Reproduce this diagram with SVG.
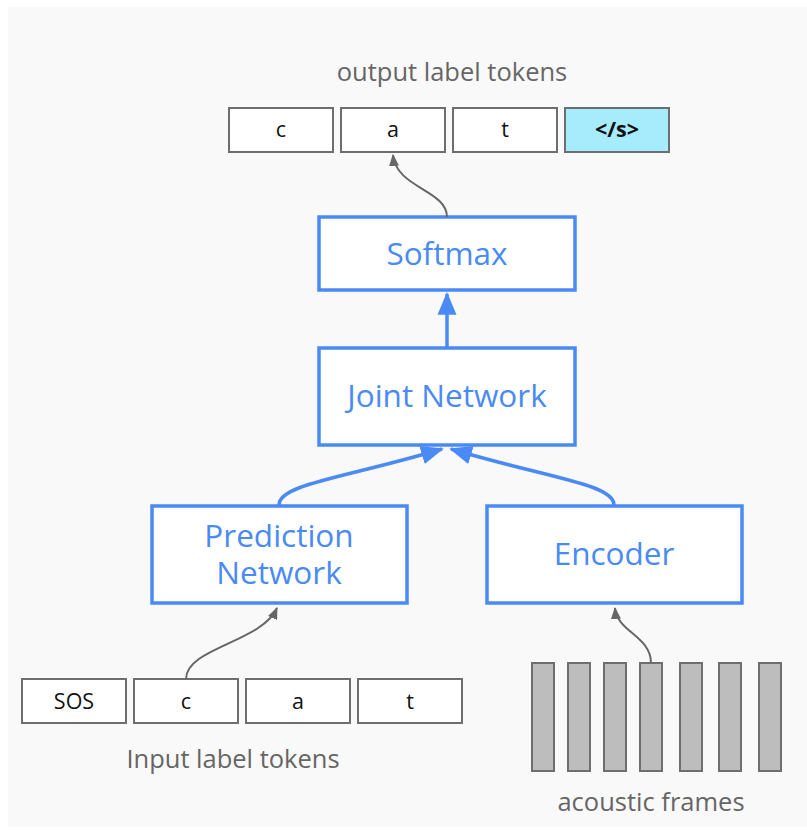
<svg xmlns="http://www.w3.org/2000/svg" width="807" height="830" viewBox="0 0 807 830">
  <defs>
    <marker id="blueHead" viewBox="0 0 12 10" refX="11" refY="5" markerWidth="6.5" markerHeight="5.5" markerUnits="strokeWidth" orient="auto">
      <path d="M0,0 L12,5 L0,10 z" fill="#4a8af4"/>
    </marker>
    <marker id="grayHead" viewBox="0 0 12 10" refX="11" refY="5" markerWidth="6" markerHeight="5" markerUnits="strokeWidth" orient="auto">
      <path d="M0,0 L12,5 L0,10 z" fill="#666666"/>
    </marker>
    <style>
      .panel { fill: #f9f9f9; }
      .block { fill: #ffffff; stroke: #4a8af4; stroke-width: 3.5; }
      .blockText { font-family: "Open Sans", Roboto, "Liberation Sans", sans-serif; font-size: 31.5px; fill: #4a8af4; text-anchor: middle; }
      .token { fill: #ffffff; stroke: #6e6e6e; stroke-width: 2; }
      .tokenEnd { fill: #a7ecfc; stroke: #6e6e6e; stroke-width: 2; }
      .tokenText { font-family: "Open Sans", Roboto, "Liberation Sans", sans-serif; font-size: 21.5px; fill: #111111; text-anchor: middle; }
      .caption { font-family: "Open Sans", Roboto, "Liberation Sans", sans-serif; font-size: 25.5px; fill: #666666; text-anchor: middle; }
      .frame { fill: #bdbdbd; stroke: #6e6e6e; stroke-width: 2; }
      .flowBlue { fill: none; stroke: #4a8af4; stroke-width: 3.5; }
      .flowGray { fill: none; stroke: #666666; stroke-width: 2; }
    </style>
  </defs>

  <rect class="panel" x="8" y="7" width="799" height="820"/>

  <!-- output tokens -->
  <g id="output-tokens">
    <text class="caption" x="452" y="81">output label tokens</text>
    <rect class="token" x="229" y="108" width="104" height="44"/>
    <text class="tokenText" x="281" y="137">c</text>
    <rect class="token" x="341" y="108" width="104" height="44"/>
    <text class="tokenText" x="393" y="137">a</text>
    <rect class="token" x="453" y="108" width="104" height="44"/>
    <text class="tokenText" x="505" y="137">t</text>
    <rect class="tokenEnd" x="565" y="108" width="104" height="44"/>
    <text class="tokenText" x="617" y="137" font-weight="bold" font-size="18">&lt;/s&gt;</text>
  </g>

  <g id="softmax">
    <rect class="block" x="319" y="217" width="256" height="73"/>
    <text class="blockText" x="447" y="265">Softmax</text>
  </g>

  <g id="joint-network">
    <rect class="block" x="319" y="348" width="256" height="97"/>
    <text class="blockText" x="447" y="407">Joint Network</text>
  </g>

  <g id="prediction-network">
    <rect class="block" x="152" y="506" width="255" height="97"/>
    <text class="blockText" x="279" y="547">Prediction<tspan x="279" dy="37">Network</tspan></text>
  </g>

  <g id="encoder">
    <rect class="block" x="487" y="506" width="255" height="97"/>
    <text class="blockText" x="614" y="565">Encoder</text>
  </g>

  <!-- input tokens -->
  <g id="input-tokens">
    <rect class="token" x="22" y="679" width="104" height="44"/>
    <text class="tokenText" x="74" y="709">SOS</text>
    <rect class="token" x="134" y="679" width="104" height="44"/>
    <text class="tokenText" x="186" y="709">c</text>
    <rect class="token" x="246" y="679" width="104" height="44"/>
    <text class="tokenText" x="298" y="709">a</text>
    <rect class="token" x="358" y="679" width="104" height="44"/>
    <text class="tokenText" x="410" y="709">t</text>
    <text class="caption" x="233" y="768">Input label tokens</text>
  </g>

  <!-- acoustic frames -->
  <g id="acoustic-frames">
    <rect class="frame" x="532" y="663" width="22" height="108"/>
    <rect class="frame" x="568" y="663" width="22" height="108"/>
    <rect class="frame" x="604" y="663" width="22" height="108"/>
    <rect class="frame" x="640" y="663" width="22" height="108"/>
    <rect class="frame" x="680" y="663" width="22" height="108"/>
    <rect class="frame" x="719" y="663" width="22" height="108"/>
    <rect class="frame" x="759" y="663" width="22" height="108"/>
    <text class="caption" x="651" y="811">acoustic frames</text>
  </g>

  <!-- connectors -->
  <g id="connectors">
    <path class="flowBlue" d="M447,348 L447,294" marker-end="url(#blueHead)"/>
    <path class="flowBlue" d="M279,505 C279,484 345,478 442,449" marker-end="url(#blueHead)"/>
    <path class="flowBlue" d="M614,505 C614,484 548,478 451,449" marker-end="url(#blueHead)"/>
    <path class="flowGray" d="M447,217 C447,190 396,188 393,155" marker-end="url(#grayHead)"/>
    <path class="flowGray" d="M186,679 C186,648 262,642 277,608" marker-end="url(#grayHead)"/>
    <path class="flowGray" d="M651,663 C651,636 617,632 615,608" marker-end="url(#grayHead)"/>
  </g>
</svg>
